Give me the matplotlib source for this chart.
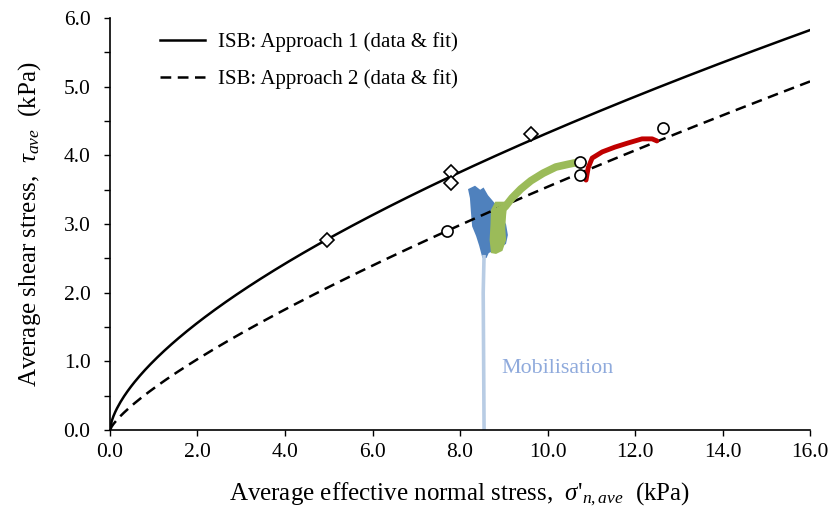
import numpy as np
import matplotlib.pyplot as plt
from matplotlib.ticker import MultipleLocator, FormatStrFormatter

plt.rcParams['font.family'] = ['Liberation Serif', 'DejaVu Serif']
plt.rcParams['mathtext.fontset'] = 'custom'
plt.rcParams['mathtext.rm'] = 'Liberation Serif'
plt.rcParams['mathtext.it'] = 'Liberation Serif:italic'

# ISB test points
app1_sigma = [4.97, 7.80, 7.80, 9.62]
app1_tau = [2.77, 3.76, 3.60, 4.31]
app2_sigma = [7.70, 10.74, 10.75, 12.64]
app2_tau = [2.90, 3.90, 3.71, 4.40]

# power-law fits  tau = a * sigma^b
app1_a, app1_b = 1.007, 0.633
app2_a, app2_b = 0.607, 0.766

# mobilisation stage (light blue line)
mob_sigma = [8.55, 8.54, 8.53, 8.55]
mob_tau = [0.00, 1.00, 2.00, 2.55]

# blue cloud outline
blue_sigma = [8.21, 8.34, 8.46, 8.53, 8.62, 8.78, 8.91, 9.03, 9.07, 9.03,
              8.87, 8.64, 8.59, 8.53, 8.46, 8.39, 8.30, 8.27, 8.25]
blue_tau = [3.50, 3.54, 3.48, 3.51, 3.41, 3.29, 3.13, 2.99, 2.84, 2.72,
            2.65, 2.59, 2.52, 2.52, 2.69, 2.83, 2.97, 3.20, 3.38]

# green stage: lower cloud + rising arc
green_blob_sigma = [8.73, 8.70, 8.72, 8.73, 8.82, 9.06, 9.03, 9.01, 9.03, 8.95, 8.82]
green_blob_tau = [2.59, 2.77, 2.99, 3.20, 3.31, 3.31, 3.13, 2.94, 2.77, 2.62, 2.58]
green_sigma = [8.89, 9.03, 9.19, 9.39, 9.62, 9.90, 10.19, 10.47, 10.70, 10.81]
green_tau = [3.20, 3.25, 3.38, 3.51, 3.63, 3.74, 3.83, 3.87, 3.90, 3.89]

# red stage
red_sigma = [10.88, 10.93, 11.02, 11.25, 11.54, 11.84, 12.16, 12.39, 12.50]
red_tau = [3.64, 3.82, 3.96, 4.05, 4.12, 4.18, 4.24, 4.24, 4.21]

fig = plt.figure(figsize=(8.32, 5.22), dpi=100)
ax = fig.add_axes([0.1322, 0.1762, 0.8414, 0.7893])

s = np.linspace(0, 16, 400)
ax.plot(s, app1_a * s ** app1_b, color='black', lw=1.8,
        label='ISB: Approach 1 (data & fit)')
ax.plot(s, app2_a * s ** app2_b, color='black', lw=1.8, ls=(0, (4.3, 2.6)),
        label='ISB: Approach 2 (data & fit)')

ax.plot(mob_sigma, mob_tau, color='#b8cce4', lw=2.6, solid_capstyle='butt')
ax.fill(blue_sigma, blue_tau, color='#4f81bd', lw=1.5, ec='#4f81bd')
ax.fill(green_blob_sigma, green_blob_tau, color='#9bbb59', lw=1.5, ec='#9bbb59')
ax.plot(green_sigma, green_tau, color='#9bbb59', lw=5.5, solid_capstyle='round')
ax.plot(red_sigma, red_tau, color='#c00000', lw=3.5, solid_capstyle='round')

ax.plot(app1_sigma, app1_tau, ls='none', marker='D', ms=7.2, mfc='white',
        mec='black', mew=1.2)
ax.plot(app2_sigma, app2_tau, ls='none', marker='o', ms=8, mfc='white',
        mec='black', mew=1.2)

ax.text(8.95, 0.9, 'Mobilisation', color='#8faadc', fontsize=15.8, va='center')

ax.set_xlim(0, 16)
ax.set_ylim(0, 6)
ax.xaxis.set_major_locator(MultipleLocator(2))
ax.yaxis.set_major_locator(MultipleLocator(1))
ax.yaxis.set_minor_locator(MultipleLocator(0.5))
ax.xaxis.set_major_formatter(FormatStrFormatter('%.1f'))
ax.yaxis.set_major_formatter(FormatStrFormatter('%.1f'))
ax.tick_params(which='both', direction='out', labelsize=15.5, width=1)
ax.tick_params(which='major', length=4.5)
ax.tick_params(which='minor', length=4.5)
ax.tick_params(axis='x', pad=4.5)
ax.tick_params(axis='y', pad=9.5)
for side in ['top', 'right']:
    ax.spines[side].set_visible(False)
for side in ['left', 'bottom']:
    ax.spines[side].set_linewidth(1.2)

ax.set_xlabel(r"Average effective normal stress,  $\sigma$'$_{n,ave}$  (kPa)",
              fontsize=18, labelpad=14)
ax.set_ylabel(r"Average shear stress,  $\tau_{ave}$  (kPa)", fontsize=18,
              labelpad=15)

ax.legend(loc='upper left', bbox_to_anchor=(0.05, 1.0), frameon=False,
          fontsize=15, handlelength=2.2, handletextpad=0.6, labelspacing=0.8,
          borderaxespad=0.3)

fig.savefig('out.png', dpi=100)
